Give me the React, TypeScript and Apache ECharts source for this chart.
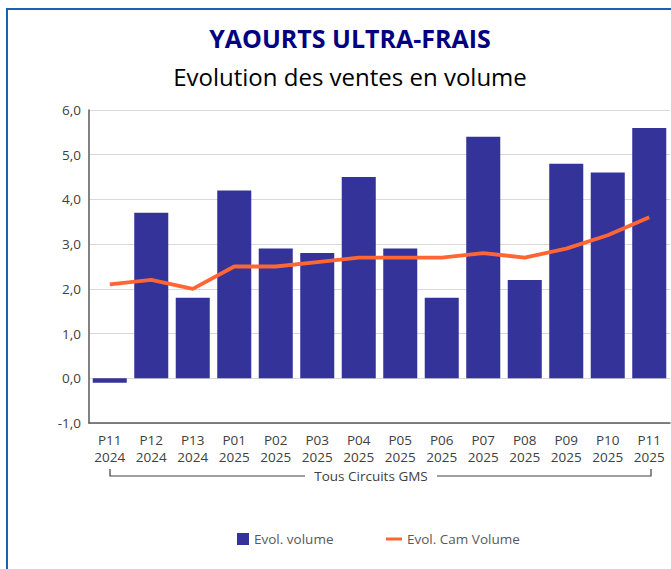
import React, { useEffect, useRef } from "react";
import * as echarts from "echarts";

const periods = ["P11", "P12", "P13", "P01", "P02", "P03", "P04", "P05", "P06", "P07", "P08", "P09", "P10", "P11"];
const years = ["2024", "2024", "2024", "2025", "2025", "2025", "2025", "2025", "2025", "2025", "2025", "2025", "2025", "2025"];
const evolVolume = [-0.1, 3.7, 1.8, 4.2, 2.9, 2.8, 4.5, 2.9, 1.8, 5.4, 2.2, 4.8, 4.6, 5.6];
const evolCamVolume = [2.1, 2.2, 2.0, 2.5, 2.5, 2.6, 2.7, 2.7, 2.7, 2.8, 2.7, 2.9, 3.2, 3.6];
const groupLabel = "Tous Circuits GMS";

export default function App() {
  const ref = useRef<HTMLDivElement>(null);
  useEffect(() => {
    if (!ref.current) return;
    const chart = echarts.init(ref.current, null, { renderer: "svg" });
    const categories = periods.map((p, i) => p + "\n" + years[i]);
    const font = "Open Sans";
    const labelSize = 13.5;
    chart.setOption({
      animation: false,
      textStyle: { fontFamily: font },
      title: [
        {
          text: "YAOURTS ULTRA-FRAIS",
          left: 345,
          top: 20,
          textAlign: "center",
          textStyle: { fontSize: 25, fontWeight: "bold", color: "#000080", fontFamily: font },
        },
        {
          text: "Evolution des ventes en volume",
          left: 345,
          top: 59,
          textAlign: "center",
          textStyle: { fontSize: 24, fontWeight: "normal", color: "#000000", fontFamily: font },
        },
      ],
      legend: [
        {
          data: [{ name: "Evol. volume", icon: "rect" }],
          left: 232,
          top: 527,
          itemWidth: 12,
          itemHeight: 12,
          textStyle: { fontSize: labelSize, color: "#595959", fontFamily: font },
        },
        {
          data: [{ name: "Evol. Cam Volume", icon: "rect" }],
          left: 381,
          top: 527,
          itemWidth: 16,
          itemHeight: 3,
          textStyle: { fontSize: labelSize, color: "#595959", fontFamily: font },
        },
      ],
      grid: { left: 89, top: 110, width: 581, height: 313, containLabel: false },
      xAxis: {
        type: "category",
        data: categories,
        axisLine: { onZero: false, lineStyle: { color: "#595959", width: 1.5 } },
        axisTick: { show: false },
        axisLabel: {
          color: "#404040",
          fontSize: labelSize,
          lineHeight: 17,
          margin: 8,
          interval: 0,
          fontFamily: font,
        },
      },
      yAxis: {
        type: "value",
        min: -1,
        max: 6,
        interval: 1,
        axisLine: { show: true, lineStyle: { color: "#595959", width: 1.5 } },
        axisTick: { show: false },
        splitLine: { lineStyle: { color: "#d9d9d9", width: 1 } },
        axisLabel: {
          color: "#404040",
          fontSize: labelSize,
          margin: 8,
          fontFamily: font,
          formatter: (v: number) => v.toFixed(1).replace(".", ","),
        },
      },
      series: [
        {
          name: "Evol. volume",
          type: "bar",
          data: evolVolume,
          barCategoryGap: "18%",
          itemStyle: { color: "#333399" },
        },
        {
          name: "Evol. Cam Volume",
          type: "line",
          data: evolCamVolume,
          symbol: "none",
          lineStyle: { color: "#FF6633", width: 3.8 },
          itemStyle: { color: "#FF6633" },
        },
      ],
      graphic: [
        {
          type: "polyline",
          shape: { points: [[110, 469], [110, 476], [305, 476]] },
          style: { stroke: "#404040", lineWidth: 1.2, fill: null },
        },
        {
          type: "polyline",
          shape: { points: [[437, 476], [651, 476], [651, 469]] },
          style: { stroke: "#404040", lineWidth: 1.2, fill: null },
        },
        {
          type: "text",
          x: 371,
          y: 476,
          style: {
            text: groupLabel,
            fontSize: labelSize,
            fill: "#404040",
            fontFamily: font,
            align: "center",
            verticalAlign: "middle",
          },
        },
      ],
    });
    return () => chart.dispose();
  }, []);
  return (
    <div style={{ position: "absolute", left: 0, top: 0, width: 671, height: 569, overflow: "hidden", background: "#fff" }}>
      <div
        style={{
          position: "absolute",
          left: 6,
          top: 8,
          width: 720,
          height: 620,
          borderLeft: "2px solid #1f5faf",
          borderTop: "2px solid #1f5faf",
          boxSizing: "border-box",
        }}
      />
      <div ref={ref} style={{ position: "absolute", left: 0, top: 0, width: 671, height: 569 }} />
    </div>
  );
}
